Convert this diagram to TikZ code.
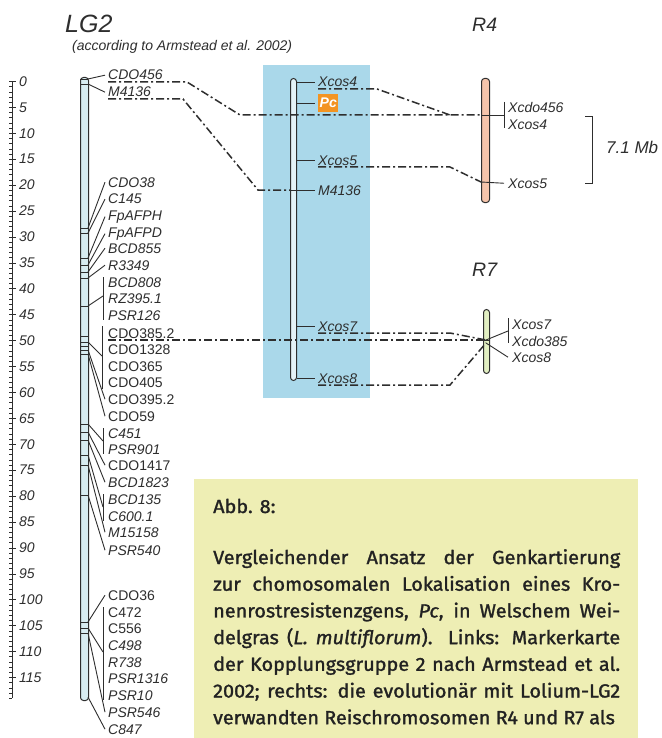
\documentclass[tikz,border=0pt]{standalone}
\usepackage{fontspec}
\setmainfont{Liberation Sans}
\newfontfamily\capfont{Fira Sans}[UprightFeatures={FakeBold=1.4,FakeStretch=1.045},ItalicFeatures={FakeBold=1.4,FakeStretch=1.045}]
\usetikzlibrary{calc}
\definecolor{boxblue}{HTML}{AAD8EA}
\definecolor{capbg}{HTML}{EEEEB4}
\definecolor{lgfill}{HTML}{D7ECF1}
\definecolor{midfill}{HTML}{E4F2F7}
\definecolor{rfour}{HTML}{F5C4AB}
\definecolor{rseven}{HTML}{E2EFC2}
\definecolor{pcorange}{HTML}{F39422}
\definecolor{ink}{HTML}{2E2E2E}
\definecolor{captext}{HTML}{222222}
\tikzset{
  lbl/.style={font=\fontsize{14}{16}\selectfont\itshape, anchor=base west, inner sep=0pt, text=ink},
  lblu/.style={font=\fontsize{14}{16}\selectfont, anchor=base west, inner sep=0pt, text=ink},
  fan/.style={draw=ink, line width=0.9pt},
  ddash/.style={draw=ink, line width=1.5pt, dash pattern=on 8pt off 3pt on 2pt off 3pt},
  chrom/.style={draw=ink, line width=1pt, rounded corners=3pt, inner sep=0pt, anchor=north west},
  scaletick/.style={draw=ink, line width=0.7pt},
}
\begin{document}
\begin{tikzpicture}[x=1pt,y=-1pt]
\useasboundingbox (0,0) rectangle (661,738);
\clip (0,0) rectangle (661,738);
\fill[white] (0,0) rectangle (661,738);

% titles
\node[font=\fontsize{25}{28}\selectfont\itshape, anchor=west, inner sep=0pt, text=ink] (tlg) at (65,23.5) {LG2};
\node[lbl, anchor=west] (tsub) at (72,47) {(according to Armstead et al. 2002)};
\node[font=\fontsize{19.5}{22}\selectfont\itshape, anchor=west, inner sep=0pt, text=ink] (tr4) at (472,25) {R4};
\node[font=\fontsize{19.5}{22}\selectfont\itshape, anchor=west, inner sep=0pt, text=ink] (tr7) at (472,270) {R7};

% scale
\draw[scaletick] (12,81.5) -- (12,{81.5+5.183*119});
\foreach \k in {0,...,119} {\draw[scaletick] (9,{81.5+5.183*\k}) -- (12,{81.5+5.183*\k});}
\foreach \k in {0,5,...,115} {
  \draw[scaletick] (9,{81.5+5.183*\k}) -- (16,{81.5+5.183*\k});
  \node[lbl, anchor=west] (s\k) at (19,{81.5+5.183*\k}) {\k};
}

% blue highlight box
\fill[boxblue] (263,65) rectangle (370,398);

% chromosomes
\node[chrom, fill=lgfill, minimum width=8pt, minimum height=623pt] (lg2) at (80,77) {};
\node[chrom, fill=midfill, minimum width=6pt, minimum height=302pt] (mchr) at (290,78) {};
\node[chrom, fill=rfour, minimum width=8pt, minimum height=124pt] (r4) at (481,78) {};
\node[chrom, fill=rseven, minimum width=6pt, minimum height=64pt] (r7) at (483,309) {};

% cross bars on LG2
\foreach \y in {79,84,228,233,258,265,272,278,306,336,342,346,350,354,424,432,440,455,465,495,622,628,633} {
  \draw[ink, line width=0.6pt] (80,\y) -- (88,\y);
}

% LG2 labels
\foreach \n/\t/\y/\s in {la/CDO456/75/lbl, lb/M4136/92/lbl, lc/CDO38/182/lbl, ld/C145/199/lbl,
  le/FpAFPH/215/lbl, lf/FpAFPD/232/lbl, lg/BCD855/248/lbl, lh/R3349/265/lbl,
  li/BCD808/282/lbl, lj/RZ395.1/298/lbl, lk/PSR126/315/lbl,
  ll/CDO385.2/333/lblu, lm/CDO1328/349/lblu, ln/CDO365/366/lblu, lo/CDO405/382/lblu,
  lp/CDO395.2/399/lblu, lq/CDO59/416/lblu, lr/C451/433/lbl, ls/PSR901/449/lbl,
  lt/CDO1417/465/lblu, lu/BCD1823/482/lbl, lv/BCD135/499/lbl, lw/C600.1/516/lbl,
  lx/M15158/532/lbl, ly/PSR540/550/lbl, lz/CDO36/595/lblu, ma/C472/612/lblu,
  mb/C556/628/lblu, mc/C498/645/lbl, md/R738/662/lbl, me/PSR1316/678/lbl,
  mf/PSR10/695/lbl, mg/PSR546/712/lbl, mh/C847/729/lbl} {
  \node[\s] (\n) at (108,{\y+5}) {\t};
}

% single fan connectors
\foreach \n/\yc in {la/79, lb/84, lc/228, ld/233, le/258, lf/265, lg/272, lh/278,
  lp/350, lq/354, lt/432, lu/440, lx/465, ly/495, lz/622, mg/633, mh/697} {
  \coordinate (\n-c) at (88,\yc);
  \draw[fan] (\n-c) -- ([xshift=-3pt]\n.west);
}

% grouped connectors (bars)
\draw[fan] ([xshift=-5pt]li.north west) -- ([xshift=-5pt]lk.south west);
\coordinate (g1c) at (88,306); \coordinate (g1b) at (103,296);
\draw[fan] (g1c) -- (g1b);
\draw[fan] ([xshift=-6pt,yshift=2pt]ll.north west) -- ([xshift=-6pt,yshift=-2pt]lo.south west);
\coordinate (g2c) at (88,342); \coordinate (g2b) at (102,356);
\draw[fan] (g2c) -- (g2b);
\draw[fan] ([xshift=-5pt]lr.north west) -- ([xshift=-5pt]ls.south west);
\coordinate (g3c) at (88,424); \coordinate (g3b) at (103,441);
\draw[fan] (g3c) -- (g3b);
\draw[fan] ([xshift=-5pt]lv.north west) -- ([xshift=-5pt]lw.south west);
\coordinate (g4c) at (88,455); \coordinate (g4b) at (103,507);
\draw[fan] (g4c) -- (g4b);
\draw[fan] ([xshift=-5pt]ma.north west) -- ([xshift=-5pt]mf.south west);
\coordinate (g5c) at (88,628); \coordinate (g5b) at (103,652);
\draw[fan] (g5c) -- (g5b);

% middle labels
\node[lbl] (xa) at (318,87) {Xcos4};
\node[fill=pcorange, text=white, font=\fontsize{14}{16}\selectfont\bfseries\itshape, inner xsep=1.5pt, inner ysep=0pt, minimum height=18pt, anchor=west] (pc) at (318,103) {Pc};
\node[lbl] (xb) at (318,165) {Xcos5};
\node[lbl] (xc) at (318,195) {M4136};
\node[lbl] (xd) at (318,331) {Xcos7};
\node[lbl] (xe) at (318,383) {Xcos8};
\foreach \n in {xa,pc,xb,xd,xe} {
  \draw[fan] (mchr.east |- \n.west) -- ([xshift=-3pt]\n.west);
}
\draw[fan] (mchr.west |- xc.west) -- ([xshift=-3pt]xc.west);

% R4 labels
\node[lbl] (ra) at (508,113) {Xcdo456};
\node[lbl] (rb) at (508,130) {Xcos4};
\node[lbl] (rc) at (508,188) {Xcos5};
\coordinate (r4a) at (481,115);
\coordinate (r4bar) at (504,115);
\draw[fan] (r4a) -- (r4bar);
\draw[fan] (504,102) -- (504,128);
\coordinate (r4b) at (481,182);
\draw[fan] (r4b) -- ([xshift=-4pt]rc.west);

% R7 labels
\node[lbl] (sa) at (512,329) {Xcos7};
\node[lbl] (sb) at (512,346) {Xcdo385};
\node[lbl] (sc) at (512,362) {Xcos8};
\coordinate (r7a) at (486,340);
\coordinate (r7b) at (486,343);
\coordinate (r7bar) at (508,331);
\draw[fan] (508,318) -- (508,343);
\draw[fan] (r7a) -- (r7bar);
\draw[fan] (r7b) -- ([xshift=-4pt]sc.west);
\draw[ink, line width=0.6pt] (r7.west |- r7a) -- (r7.east |- r7a);

% bracket 7.1 Mb
\coordinate (bt) at (592,116); \coordinate (bb) at (592,183);
\draw[fan] ([xshift=-7pt]bt) -- (bt) -- (bb) -- ([xshift=-7pt]bb);
\node[font=\fontsize{17}{20}\selectfont\itshape, anchor=west, inner sep=0pt, text=ink] (mb) at (606,147) {7.1 Mb};

% dash-dot homology lines
\coordinate (la-u) at ([yshift=-2pt]la.base west);
\coordinate (lb-u) at ([yshift=-2pt]lb.base west);
\coordinate (ll-u) at ([yshift=-2pt]ll.base west);
\coordinate (xa-u) at ([yshift=-2pt]xa.base west);
\coordinate (xb-u) at ([yshift=-2pt]xb.base west);
\coordinate (xd-u) at ([yshift=-2pt]xd.base west);
\coordinate (xe-u) at ([yshift=-2pt]xe.base west);
\coordinate (k1) at (187,0);
\coordinate (k2) at (240,115);
\coordinate (k3) at (183,0);
\coordinate (k4) at (258,190);
\coordinate (k5) at (377,0);
\coordinate (k6) at (450,115);
\coordinate (k7) at (450,0);
\coordinate (m41) at (290,190);
\draw[ddash] (la-u) -- (la-u -| k1) -- (k2) -- (r4a);
\draw[ddash] (lb-u) -- (lb-u -| k3) -- (k4) -- (m41);
\draw[ddash] (xa-u) -- (xa-u -| k5) -- (k6);
\draw[ddash] (xb-u) -- (xb-u -| k7) -- (r4b);
\draw[ddash] (ll-u) -- (ll-u -| r7a);
\draw[ddash] (xd-u) -- (xd-u -| k7) -- (r7a);
\draw[ddash] (xe-u) -- (xe-u -| k7) -- (r7b);

% caption box
\fill[capbg] (194,479) rectangle (638,760);
\node[font=\capfont\fontsize{19}{22}\selectfont, anchor=base west, inner sep=0pt, text=captext] (abb) at (213,513) {Abb. 8:};
\node[font=\capfont\fontsize{19}{26.7}\selectfont, anchor=north west, inner sep=0pt, text width=407pt, align=justify, text=captext] (cap) at (213,549)
{\parfillskip=0pt Vergleichender Ansatz der Genkartierung\linebreak
zur chomosomalen Lokalisation eines Kro-\linebreak
nenrostresistenzgens, \textit{Pc}, in Welschem Wei-\linebreak
delgras (\textit{L. multiflorum}). Links: Markerkarte\linebreak
der Kopplungsgruppe 2 nach Armstead et al.\linebreak
2002; rechts: die evolution\"ar mit Lolium-LG2\linebreak
verwandten Reischromosomen R4 und R7 als};
\end{tikzpicture}
\end{document}
